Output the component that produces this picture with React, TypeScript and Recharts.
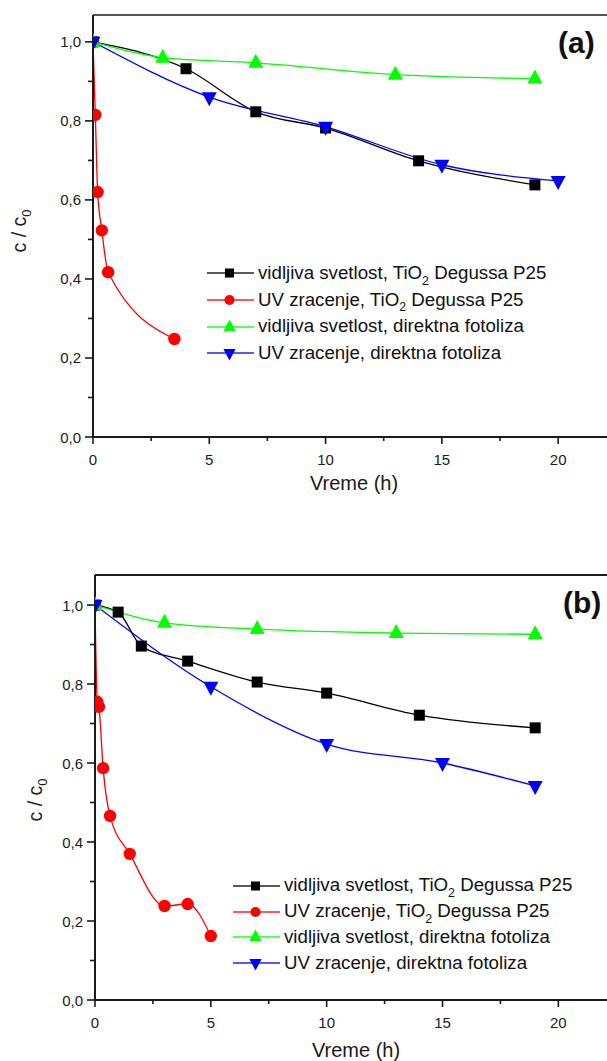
import React from 'react';
import { LineChart, Line, XAxis, YAxis, ReferenceLine, Legend } from 'recharts';

const FONT = '"Liberation Sans", Arial, Helvetica, sans-serif';

// ---------- Panel (a) ----------
const aVisTiO2Time = [0, 4, 7, 10, 14, 19];
const aVisTiO2Ratio = [1.0, 0.932, 0.823, 0.782, 0.699, 0.638];
const aUvTiO2Time = [0, 0.1, 0.2, 0.38, 0.65, 3.5];
const aUvTiO2Ratio = [1.0, 0.815, 0.62, 0.523, 0.417, 0.248];
const aVisDirTime = [0, 3, 7, 13, 19];
const aVisDirRatio = [1.0, 0.96, 0.947, 0.917, 0.907];
const aUvDirTime = [0, 5, 10, 15, 20];
const aUvDirRatio = [1.0, 0.86, 0.785, 0.689, 0.648];

// ---------- Panel (b) ----------
const bVisTiO2Time = [0, 1, 2, 4, 7, 10, 14, 19];
const bVisTiO2Ratio = [1.0, 0.982, 0.896, 0.858, 0.805, 0.777, 0.721, 0.689];
const bUvTiO2Time = [0, 0.1, 0.17, 0.35, 0.65, 1.5, 3, 4, 5];
const bUvTiO2Ratio = [1.0, 0.755, 0.742, 0.587, 0.466, 0.37, 0.238, 0.243, 0.162];
const bVisDirTime = [0, 3, 7, 13, 19];
const bVisDirRatio = [1.0, 0.955, 0.939, 0.929, 0.926];
const bUvDirTime = [0, 5, 10, 15, 19];
const bUvDirRatio = [1.0, 0.793, 0.648, 0.6, 0.542];

// ---------- shared ----------
const SERIES_NAMES = [
  'vidljiva svetlost, TiO₂ Degussa P25',
  'UV zracenje, TiO₂ Degussa P25',
  'vidljiva svetlost, direktna fotoliza',
  'UV zracenje, direktna fotoliza',
];
const SERIES_COLORS = ['#000000', '#ff0000', '#00ff00', '#0000ff'];
const SERIES_SHAPES = ['square', 'circle', 'up', 'down'];
const X_TICKS = [0, 2.5, 5, 7.5, 10, 12.5, 15, 17.5, 20];
const Y_TICKS = [0, 0.1, 0.2, 0.3, 0.4, 0.5, 0.6, 0.7, 0.8, 0.9, 1.0];
const X_MAX = 22.1;
const X_TITLE = 'Vreme (h)';

type Pt = { x: number; y: number };
const pts = (xs: number[], ys: number[]): Pt[] => xs.map((x, i) => ({ x, y: ys[i] }));

const seriesA = [
  pts(aVisTiO2Time, aVisTiO2Ratio),
  pts(aUvTiO2Time, aUvTiO2Ratio),
  pts(aVisDirTime, aVisDirRatio),
  pts(aUvDirTime, aUvDirRatio),
];
const seriesB = [
  pts(bVisTiO2Time, bVisTiO2Ratio),
  pts(bUvTiO2Time, bUvTiO2Ratio),
  pts(bVisDirTime, bVisDirRatio),
  pts(bUvDirTime, bUvDirRatio),
];

function Marker({ shape, cx, cy, color, s = 1 }: any) {
  if (cx == null || cy == null) return null;
  if (shape === 'square')
    return <rect x={cx - 5.5 * s} y={cy - 5.5 * s} width={11 * s} height={11 * s} fill={color} />;
  if (shape === 'circle') return <circle cx={cx} cy={cy} r={6.2 * s} fill={color} />;
  if (shape === 'up')
    return (
      <polygon
        points={`${cx},${cy - 9 * s} ${cx - 7.5 * s},${cy + 5 * s} ${cx + 7.5 * s},${cy + 5 * s}`}
        fill={color}
      />
    );
  return (
    <polygon
      points={`${cx},${cy + 9 * s} ${cx - 7.5 * s},${cy - 5 * s} ${cx + 7.5 * s},${cy - 5 * s}`}
      fill={color}
    />
  );
}

function XTick(props: any) {
  const { x, y, payload } = props;
  const v = payload.value;
  const major = Math.abs(v % 5) < 1e-6;
  return (
    <g>
      <line x1={x} x2={x} y1={y} y2={y + (major ? 7 : 4)} stroke="#1a1a1a" strokeWidth={1.6} />
      {major && (
        <text x={x} y={y + 27.5} textAnchor="middle" fontSize={15} fontFamily={FONT} fill="#1a1a1a">
          {v}
        </text>
      )}
    </g>
  );
}

function YTick(props: any) {
  const { x, y, payload } = props;
  const v = payload.value;
  const major = Math.round(v * 10) % 2 === 0;
  return (
    <g>
      <line x1={x} x2={x - (major ? 8 : 5)} y1={y} y2={y} stroke="#1a1a1a" strokeWidth={1.6} />
      {major && (
        <text x={x - 12} y={y + 5.5} textAnchor="end" fontSize={15} fontFamily={FONT} fill="#1a1a1a">
          {v.toFixed(1).replace('.', ',')}
        </text>
      )}
    </g>
  );
}

function LegendText({ text }: { text: string }) {
  const parts = text.split('₂');
  return (
    <span>
      {parts.map((p, i) => (
        <React.Fragment key={i}>
          {p}
          {i < parts.length - 1 && (
            <span style={{ fontSize: '0.66em', position: 'relative', top: '0.45em' }}>2</span>
          )}
        </React.Fragment>
      ))}
    </span>
  );
}

function LegendBox({ rowH }: { rowH: number }) {
  return (
    <div style={{ fontFamily: FONT, fontSize: 18.7, color: '#111' }}>
      {SERIES_NAMES.map((name, i) => (
        <div key={i} style={{ display: 'flex', alignItems: 'center', height: rowH, whiteSpace: 'nowrap' }}>
          <svg width={47} height={20} style={{ flex: 'none' }}>
            <line x1={0} x2={47} y1={10} y2={10} stroke={SERIES_COLORS[i]} strokeOpacity={0.65} strokeWidth={2} />
            <Marker shape={SERIES_SHAPES[i]} cx={22.5} cy={10} color={SERIES_COLORS[i]} s={0.82} />
          </svg>
          <span style={{ marginLeft: 4, lineHeight: 1 }}>
            <LegendText text={name} />
          </span>
        </div>
      ))}
    </div>
  );
}

type PanelProps = {
  series: Pt[][];
  yMax: number;
  height: number;
  marginTop: number;
  yAxisWidth: number;
  xAxisHeight: number;
  tag: string;
  tagX: number;
  tagY: number;
  yTitleX: number;
  yTitleY: number;
  xTitleX: number;
  xTitleY: number;
  legendLeft: number;
  legendTop: number;
  legendRowH: number;
  frameColor: string;
};

function Panel(p: PanelProps) {
  return (
    <LineChart
      width={599}
      height={p.height}
      margin={{ top: p.marginTop, right: 0, bottom: 0, left: 0 }}
    >
      <XAxis
        dataKey="x"
        type="number"
        domain={[0, X_MAX]}
        allowDataOverflow
        ticks={X_TICKS}
        interval={0}
        tickSize={0}
        tickMargin={0}
        tickLine={false}
        axisLine={{ stroke: '#1a1a1a', strokeWidth: 2 }}
        tick={(props: any) => <XTick {...props} />}
        height={p.xAxisHeight}
        label={{
          content: () => (
            <text
              x={p.xTitleX}
              y={p.xTitleY}
              textAnchor="middle"
              fontSize={20}
              fontFamily={FONT}
              fill="#1a1a1a"
            >
              {X_TITLE}
            </text>
          ),
        }}
      />
      <YAxis
        dataKey="y"
        type="number"
        domain={[0, p.yMax]}
        allowDataOverflow
        ticks={Y_TICKS}
        interval={0}
        tickSize={0}
        tickMargin={0}
        tickLine={false}
        axisLine={{ stroke: '#1a1a1a', strokeWidth: 2 }}
        tick={(props: any) => <YTick {...props} />}
        width={p.yAxisWidth}
        label={{
          content: () => (
            <g>
              <text
                x={p.yTitleX}
                y={p.yTitleY}
                transform={`rotate(-90, ${p.yTitleX}, ${p.yTitleY})`}
                textAnchor="middle"
                fontSize={19.5}
                fontFamily={FONT}
                fill="#1a1a1a"
              >
                c / c
                <tspan fontSize={13} dy={5}>
                  0
                </tspan>
              </text>
              <text
                x={p.tagX}
                y={p.tagY}
                fontSize={30}
                fontWeight="bold"
                fontFamily={FONT}
                fill="#111"
              >
                {p.tag}
              </text>
            </g>
          ),
        }}
      />
      <ReferenceLine y={p.yMax} stroke={p.frameColor} strokeWidth={2} ifOverflow="extendDomain" />
      {p.series.map((data, i) => (
        <Line
          key={i}
          data={data}
          dataKey="y"
          type="monotone"
          stroke={SERIES_COLORS[i]}
          strokeWidth={1.3}
          isAnimationActive={false}
          name={SERIES_NAMES[i]}
          dot={(props: any) => (
            <Marker
              key={`d${i}-${props.index}`}
              shape={SERIES_SHAPES[i]}
              cx={props.cx}
              cy={props.cy}
              color={SERIES_COLORS[i]}
            />
          )}
          activeDot={false}
        />
      ))}
      <Legend
        layout="vertical"
        align="center"
        verticalAlign="middle"
        wrapperStyle={{ position: 'absolute', left: p.legendLeft, top: p.legendTop, width: 'auto', height: 'auto' }}
        content={() => <LegendBox rowH={p.legendRowH} />}
      />
    </LineChart>
  );
}

export default function App() {
  return (
    <div style={{ paddingLeft: 8, paddingTop: 8, width: 599, height: 1053, background: '#fff' }}>
      <style>{'html{overflow:hidden;} body{margin:0;} .recharts-surface{overflow:visible;}'}</style>
      <Panel
        series={seriesA}
        yMax={1.068}
        height={520}
        marginTop={7}
        yAxisWidth={85}
        xAxisHeight={91}
        tag="(a)"
        tagX={550}
        tagY={45}
        yTitleX={17.5}
        yTitleY={223}
        xTitleX={346}
        xTitleY={482}
        legendLeft={199}
        legendTop={252}
        legendRowH={26.7}
        frameColor="#555"
      />
      <Panel
        series={seriesB}
        yMax={1.076}
        height={533}
        marginTop={47}
        yAxisWidth={87}
        xAxisHeight={61}
        tag="(b)"
        tagX={555}
        tagY={85}
        yTitleX={34}
        yTitleY={272}
        xTitleX={348}
        xTitleY={529}
        legendLeft={225}
        legendTop={345}
        legendRowH={25.7}
        frameColor="#1a1a1a"
      />
    </div>
  );
}
